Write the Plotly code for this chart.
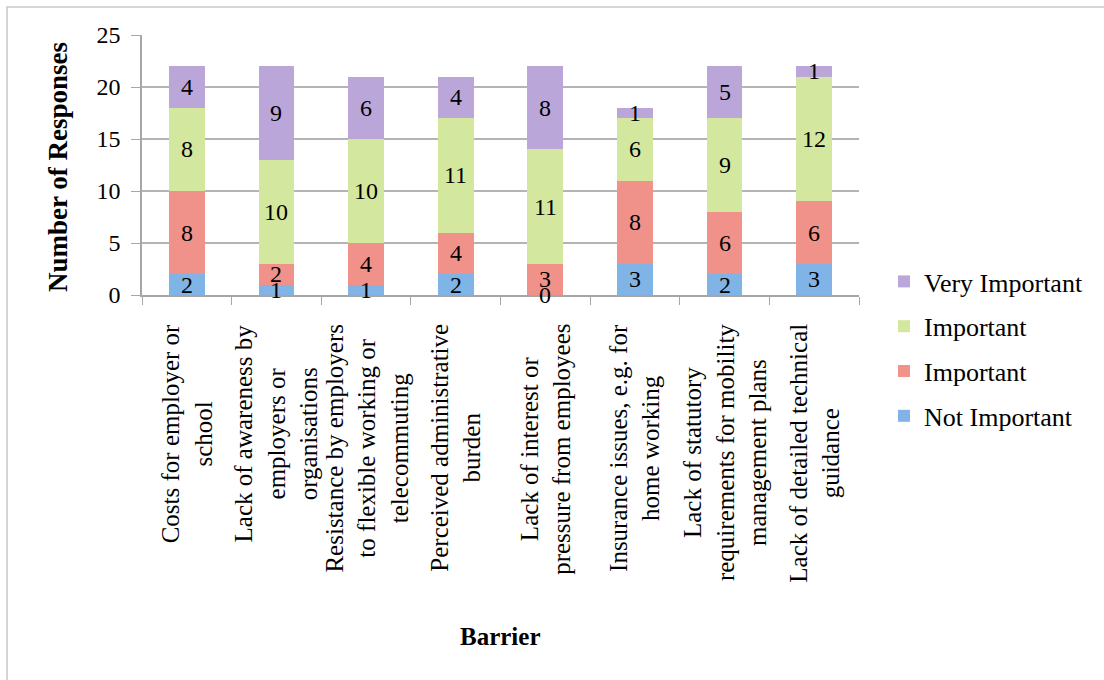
import plotly.graph_objects as go

categories = [
    "Costs for employer or<br>school",
    "Lack of awareness by<br>employers or<br>organisations",
    "Resistance by employers<br>to flexible working or<br>telecommuting",
    "Perceived administrative<br>burden",
    "Lack of interest or<br>pressure from employees",
    "Insurance issues, e.g. for<br>home working",
    "Lack of statutory<br>requirements for mobility<br>management plans",
    "Lack of detailed technical<br>guidance",
]
series_names = ["Not Important", "Important", "Important", "Very Important"]
not_important = [2, 1, 1, 2, 0, 3, 2, 3]
important_low = [8, 2, 4, 4, 3, 8, 6, 6]
important_high = [8, 10, 10, 11, 11, 6, 9, 12]
very_important = [4, 9, 6, 4, 8, 1, 5, 1]
series_values = [not_important, important_low, important_high, very_important]
colors = ["#80b3e6", "#f0928a", "#d3e89e", "#bba6da"]
y_ticks = [0, 5, 10, 15, 20, 25]

FONT = "Liberation Serif"
fig = go.Figure()
n = len(series_names)
for i, (name, vals, col) in enumerate(zip(series_names, series_values, colors)):
    fig.add_trace(go.Bar(
        x=categories, y=vals, name=name, marker=dict(color=col, line=dict(width=0)),
        legendgroup=f"g{i}", legendrank=n - i, hoverinfo="skip",
    ))

W, H = 1104, 680
L, R, T, B = 142, 859, 35, 295
pw, ph = R - L, B - T

def px(x):
    return (x - L) / pw

def py(y):
    return (B - y) / ph

annotations = []
base = [0] * len(categories)
for vals in series_values:
    for j, v in enumerate(vals):
        annotations.append(dict(
            x=categories[j], y=base[j] + v / 2, text=str(v), showarrow=False,
            font=dict(family=FONT, size=24, color="black"), xref="x", yref="y",
            xanchor="center", yanchor="middle",
        ))
        base[j] += v

for cat in categories:
    annotations.append(dict(
        x=cat, xref="x", y=py(322), yref="paper", text=cat, showarrow=False,
        textangle=-90, xanchor="center", yanchor="top", align="center",
        font=dict(family=FONT, size=25, color="black"),
    ))

annotations.append(dict(
    x=px(500), y=py(637), xref="paper", yref="paper", text="<b>Barrier</b>",
    showarrow=False, xanchor="center", yanchor="middle",
    font=dict(family=FONT, size=25, color="black"),
))
annotations.append(dict(
    x=px(58), y=py(167), xref="paper", yref="paper", text="<b>Number of Responses</b>",
    showarrow=False, textangle=-90, xanchor="center", yanchor="middle",
    font=dict(family=FONT, size=27, color="black"),
))

fig.update_layout(
    width=W, height=H, barmode="stack", bargap=0.6,
    margin=dict(l=L, r=W - R, t=T, b=H - B, pad=0),
    paper_bgcolor="white", plot_bgcolor="white",
    font=dict(family=FONT, size=24, color="black"),
    showlegend=True,
    legend=dict(
        x=px(884), y=py(258), xanchor="left", yanchor="top",
        traceorder="grouped", tracegroupgap=8,
        font=dict(family=FONT, size=26, color="black"), bgcolor="rgba(0,0,0,0)",
    ),
    annotations=annotations,
    shapes=[dict(
        type="rect", xref="paper", yref="paper",
        x0=px(7), x1=px(1112), y0=py(690), y1=py(7),
        line=dict(color="#c8c8c8", width=1.5), fillcolor="rgba(0,0,0,0)", layer="below",
    )],
)
fig.update_xaxes(
    type="category", tickson="boundaries", ticks="outside", ticklen=8, tickcolor="#a6a6a6",
    showline=True, linecolor="#a6a6a6", linewidth=1.5, showticklabels=False,
    showgrid=False,
)
fig.update_yaxes(
    range=[0, 25], tickvals=y_ticks, ticks="outside", ticklen=9, tickcolor="#a6a6a6",
    showline=True, linecolor="#a6a6a6", linewidth=1.5,
    showgrid=True, gridcolor="#b4b4b4", gridwidth=1.5, zeroline=False,
    tickfont=dict(family=FONT, size=24, color="black"), ticklabelstandoff=6,
)
fig.write_html("out.html")
